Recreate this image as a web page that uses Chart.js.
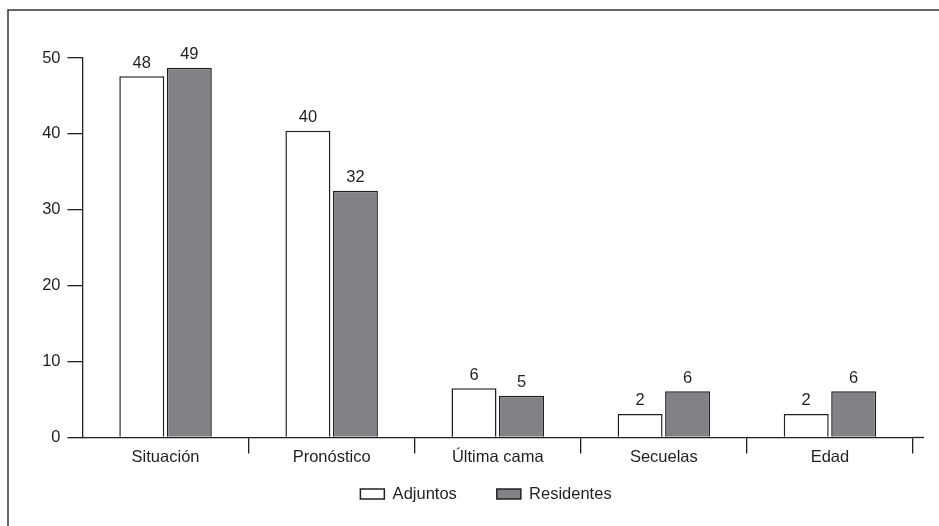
<!DOCTYPE html>
<html>
<head>
<meta charset="utf-8">
<script src="https://cdn.jsdelivr.net/npm/chart.js@4/dist/chart.umd.min.js"></script>
<style>
  html, body { margin: 0; padding: 0; background: #fff; }
  #wrap { width: 939px; height: 526px; }
</style>
</head>
<body>
<div id="wrap"><canvas id="chart"></canvas></div>
<script>
'use strict';

//--------> Data <--------
const categories = ['Situación', 'Pronóstico', 'Última cama', 'Secuelas', 'Edad'];
const adjuntos = [47.6, 40.4, 6.5, 3.1, 3.1]; // bar heights as drawn
const residentes = [48.7, 32.5, 5.5, 6.1, 6.1];
const adjuntosLabels = [48, 40, 6, 2, 2]; // numbers printed above bars
const residentesLabels = [49, 32, 5, 6, 6];
const yTicks = [0, 10, 20, 30, 40, 50];

const ink = '#231f20';
const fontMain = { family: 'Liberation Sans, Arial, sans-serif', size: 16.5 };

//--------> Plugins <--------
// outer frame (only left and top edges show in the picture)
const framePlugin = {
  id: 'frame',
  beforeDraw (chart) {
    const c = chart.ctx;
    c.save();
    c.strokeStyle = '#333';
    c.lineWidth = 1.5;
    c.beginPath();
    c.moveTo(8, chart.height);
    c.lineTo(8, 10);
    c.lineTo(chart.width, 10);
    c.stroke();
    c.restore();
  }
};

// numbers above the bars
const valuePlugin = {
  id: 'values',
  afterDatasetsDraw (chart) {
    const c = chart.ctx;
    const sets = [adjuntosLabels, residentesLabels];
    c.save();
    c.font = `${fontMain.size}px ${fontMain.family}`;
    c.fillStyle = ink;
    c.textAlign = 'center';
    c.textBaseline = 'alphabetic';
    chart.data.datasets.forEach((ds, d) => {
      chart.getDatasetMeta(d).data.forEach((bar, i) => {
        c.fillText(String(sets[d][i]), bar.x, bar.y - 8.5);
      });
    });
    c.restore();
  }
};

// x axis line runs a little past the last tick
const axisTail = {
  id: 'axisTail',
  afterDraw (chart) {
    const a = chart.chartArea;
    const c = chart.ctx;
    c.save();
    c.strokeStyle = ink;
    c.lineWidth = 1.3;
    c.beginPath();
    c.moveTo(a.right, a.bottom);
    c.lineTo(a.right + 11, a.bottom);
    c.stroke();
    c.restore();
  }
};

// nudge the legend to where it sits in the picture
const legendNudge = {
  id: 'legendNudge',
  afterLayout (chart) {
    const lg = chart.legend;
    if (!lg) return;
    const dy = 445.75 - lg.top;
    lg.top += dy; lg.bottom += dy;
    lg.left += 25.5; lg.right += 25.5;
  }
};

//--------> Chart <--------
Chart.defaults.font.family = fontMain.family;
Chart.defaults.font.size = fontMain.size;
Chart.defaults.color = ink;

new Chart(document.getElementById('chart'), {
  type: 'bar',
  data: {
    labels: categories,
    datasets: [{
      label: 'Adjuntos',
      data: adjuntos,
      backgroundColor: '#ffffff',
      borderColor: ink,
      borderWidth: 1.5
    }, {
      label: 'Residentes',
      data: residentes,
      backgroundColor: '#808285',
      borderColor: ink,
      borderWidth: 1.5
    }]
  },
  options: {
    responsive: true,
    maintainAspectRatio: false,
    animation: false,
    categoryPercentage: 0.572,
    barPercentage: 0.947,
    layout: { padding: { left: 8, right: 26, top: 58, bottom: -8 } },
    plugins: {
      tooltip: { enabled: false },
      legend: {
        position: 'bottom',
        labels: { boxWidth: 24, boxHeight: 10, padding: 40, font: fontMain, color: ink }
      }
    },
    scales: {
      x: {
        offset: true,
        grid: {
          offset: true,
          drawOnChartArea: false,
          tickLength: 16,
          lineWidth: 1.3,
          color: ctx => ctx.index === 0 ? 'rgba(0,0,0,0)' : ink
        },
        border: { color: ink, width: 1.3 },
        ticks: { padding: -6, font: fontMain, color: ink, maxRotation: 0, autoSkip: false },
        afterFit: s => { s.height = 30; }
      },
      y: {
        min: 0,
        max: 50,
        afterBuildTicks: s => { s.ticks = yTicks.map(v => ({ value: v })); },
        grid: { drawOnChartArea: false, tickLength: 15, lineWidth: 1.3, color: ink },
        border: { color: ink, width: 1.3 },
        ticks: { padding: 7, font: fontMain, color: ink },
        afterFit: s => { s.width = 74.5; }
      }
    }
  },
  plugins: [framePlugin, valuePlugin, axisTail, legendNudge]
});
</script>
</body>
</html>
